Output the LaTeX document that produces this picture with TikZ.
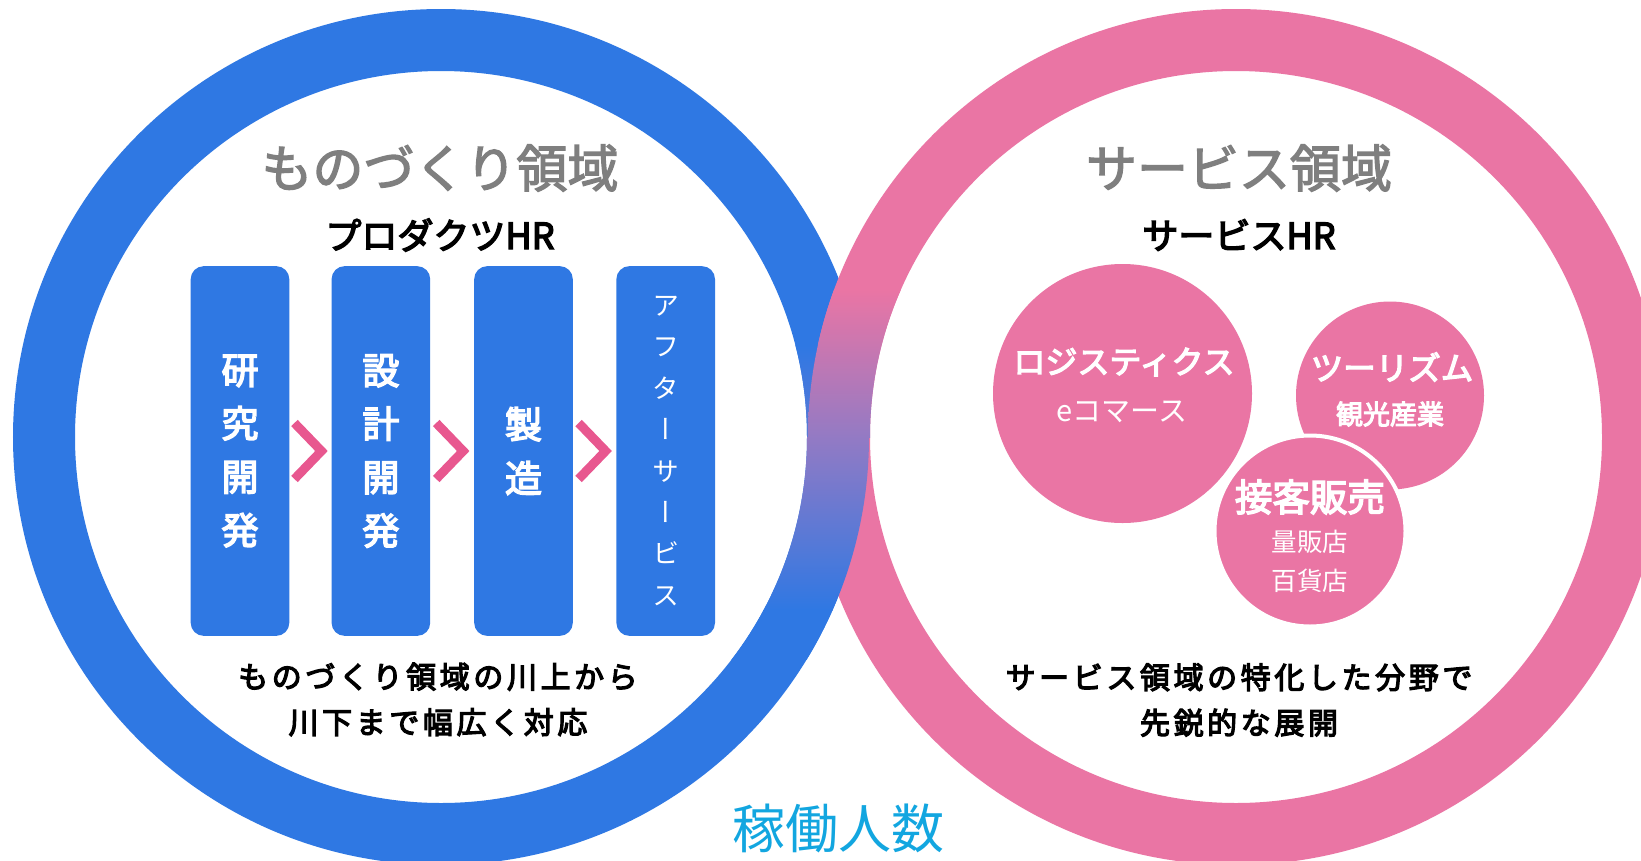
\documentclass[tikz,border=0pt]{standalone}
\usepackage{fontspec}
\newfontfamily\jp{Noto Sans CJK JP}
\newfontfamily\jpm[FakeBold=2.6]{Noto Sans CJK JP}
\newfontfamily\jpb[FakeBold=4]{Noto Sans CJK JP}
\newfontfamily\jpv[RawFeature=+vert]{Noto Sans CJK JP}
\usetikzlibrary{calc}
\definecolor{ringblue}{HTML}{2F78E3}
\definecolor{ringpink}{HTML}{EA75A4}
\definecolor{chevpink}{HTML}{E8578F}
\definecolor{midpurple}{HTML}{937AC4}
\definecolor{headgrey}{HTML}{7F7F7F}
\definecolor{kadocyan}{HTML}{12A6E0}
\tikzset{
  stepbox/.style={rectangle, rounded corners=13pt, fill=ringblue, minimum width=98.6pt,
    minimum height=369.7pt, inner sep=0pt, text=white, align=center},
  chev/.style={draw=chevpink, line width=9pt, line join=miter},
  bub/.style={circle, fill=ringpink, inner sep=0pt, outer sep=0pt},
  headtxt/.style={text=headgrey, inner sep=0pt, font=\jpm\fontsize{51}{60}\selectfont},
  subhead/.style={text=black, inner sep=0pt, font=\jpb\fontsize{36}{42}\selectfont},
  desc/.style={text=black, inner sep=0pt, align=center,
    font=\jpb\fontsize{30}{45.5}\selectfont\addfontfeature{LetterSpace=12}},
  bubtitle/.style={text=white, inner sep=0pt, font=\jpb\fontsize{#1}{#1}\selectfont},
  bubsub/.style={text=white, inner sep=0pt, align=center, font=\jp\fontsize{#1}{39}\selectfont},
}
\begin{document}
\begin{tikzpicture}[x=1pt,y=-1pt]
\useasboundingbox (0,0) rectangle (1641,860);
\fill[white] (0,0) rectangle (1641,860);
\clip (0,0) rectangle (1641,860);

% rings
\draw[ringblue, line width=62pt] (441,437) circle[radius=397pt];
\draw[ringpink, line width=62pt] (1236,437) circle[radius=397pt];

% overlap, upper half: pink over blue, fading to purple
\begin{scope}
  \clip (740,240) rectangle (915,437.5);
  \begin{scope}[even odd rule]
    \clip (441,437) circle[radius=428pt] (441,437) circle[radius=366pt];
    \shade[top color=ringblue, bottom color=ringblue!55!midpurple] (740,345) rectangle (915,437.5);
  \end{scope}
  \begin{scope}[even odd rule]
    \clip (1236,437) circle[radius=428pt] (1236,437) circle[radius=366pt];
    \shade[top color=ringpink, bottom color=midpurple] (740,290) rectangle (915,437.5);
  \end{scope}
\end{scope}
% overlap, lower half: blue over pink, from purple to blue
\begin{scope}[even odd rule]
  \clip (725,437) rectangle (915,660);
  \clip (441,437) circle[radius=428pt] (441,437) circle[radius=366pt];
  \shade[top color=midpurple, bottom color=ringblue] (725,437) rectangle (915,610);
  \fill[ringblue] (725,609) rectangle (915,660);
\end{scope}

% left side texts
\node[headtxt] (lhead) at (440,168) {ものづくり領域};
\node[subhead] (lsub) at (440,235) {プロダクツHR};

\node[stepbox, font=\jpb\fontsize{37}{53.4}\selectfont] (b1) at (240,451) {研\\究\\開\\発};
\node[stepbox, font=\jpb\fontsize{37}{53.4}\selectfont] (b2) at (380.9,451) {設\\計\\開\\発};
\node[stepbox, font=\jpb\fontsize{37}{54}\selectfont] (b3) at (523.5,451) {製\\造};
\node[stepbox, font=\jpv\fontsize{27}{41.4}\selectfont] (b4) at (665.7,451) {ア\\フ\\タ\\ー\\サ\\ー\\ビ\\ス};

\coordinate (m1) at ($(b1.east)!0.5!(b2.west)$);
\coordinate (m2) at ($(b2.east)!0.5!(b3.west)$);
\coordinate (m3) at ($(b3.east)!0.5!(b4.west)$);
\foreach \m in {m1,m2,m3}
  \draw[chev] ([shift={(-16,-28)}]\m) -- ([shift={(11,0)}]\m) -- ([shift={(-16,28)}]\m);

\node[desc] (ldesc) at (438,699.5) {ものづくり領域の川上から\\川下まで幅広く対応};

% right side texts
\node[headtxt] (rhead) at (1239,168) {サービス領域};
\node[subhead] (rsub) at (1239,235) {サービスHR};

\node[bub, minimum size=259pt] (logi) at (1122.5,393.5) {};
\node[bub, minimum size=188pt] (tour) at (1390,395.5) {};
\node[bub, minimum size=191pt, draw=white, line width=4pt] (sekkyaku) at (1310,531) {};

\node[bubtitle=32] (logit) at (1124,362) {ロジスティクス};
\node[bubsub=29] (logis) at (1122,412) {eコマース};
\node[bubtitle=32.5] (tourt) at (1392,367) {ツーリズム};
\node[bubsub=27, font=\jpb\fontsize{27}{30}\selectfont] (tours) at (1390,414) {観光産業};
\node[bubtitle=37.5] (sekt) at (1310,497) {接客販売};
\node[bubsub=25.5] (seks) at (1310,561.5) {量販店\\百貨店};

\node[desc] (rdesc) at (1239,700) {サービス領域の特化した分野で\\先鋭的な展開};

% bottom label
\node[text=kadocyan, inner sep=0pt, font=\jp\fontsize{53}{60}\selectfont] (kado) at (838,828) {稼働人数};
\end{tikzpicture}
\end{document}
